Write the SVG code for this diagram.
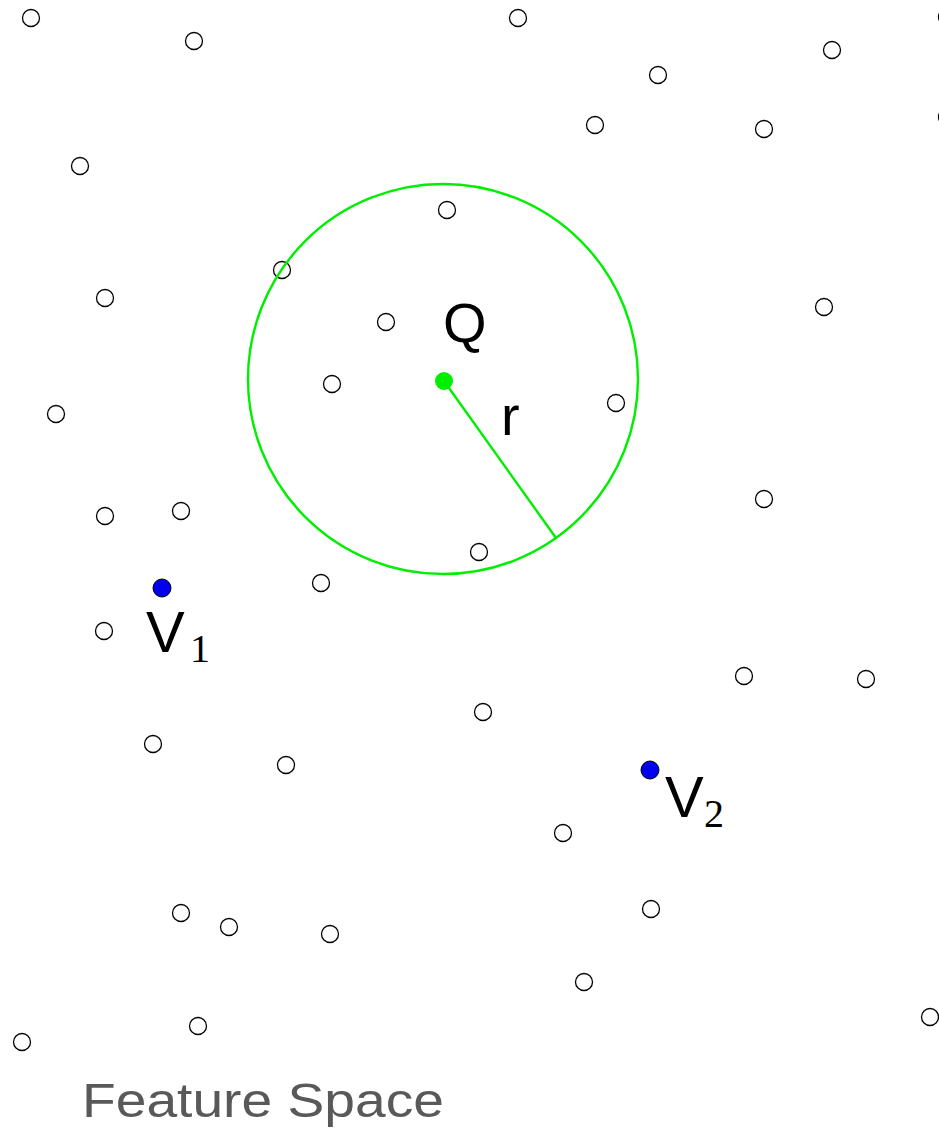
<svg xmlns="http://www.w3.org/2000/svg" width="939" height="1130" viewBox="0 0 939 1130">
<style>
.pt{fill:#fff;stroke:#000;stroke-width:1.3}
.lbl{font-family:"Liberation Sans","DejaVu Sans",sans-serif;fill:#000}
.sub{font-family:"Liberation Serif","DejaVu Serif",serif;fill:#000}
</style>
<rect width="939" height="1130" fill="#fff"/>
<g id="points">
<circle class="pt" cx="31" cy="18" r="8.5"/>
<circle class="pt" cx="194" cy="41" r="8.5"/>
<circle class="pt" cx="518" cy="18" r="8.5"/>
<circle class="pt" cx="658" cy="75" r="8.5"/>
<circle class="pt" cx="832" cy="50" r="8.5"/>
<circle class="pt" cx="947" cy="17" r="8.5"/>
<circle class="pt" cx="947" cy="117" r="8.5"/>
<circle class="pt" cx="595" cy="125" r="8.5"/>
<circle class="pt" cx="764" cy="129" r="8.5"/>
<circle class="pt" cx="80" cy="166" r="8.5"/>
<circle class="pt" cx="447" cy="210" r="8.5"/>
<circle class="pt" cx="282" cy="270" r="8.5"/>
<circle class="pt" cx="105" cy="298" r="8.5"/>
<circle class="pt" cx="824" cy="307" r="8.5"/>
<circle class="pt" cx="386" cy="322" r="8.5"/>
<circle class="pt" cx="332" cy="384" r="8.5"/>
<circle class="pt" cx="56" cy="414" r="8.5"/>
<circle class="pt" cx="616" cy="403" r="8.5"/>
<circle class="pt" cx="764" cy="499" r="8.5"/>
<circle class="pt" cx="105" cy="516" r="8.5"/>
<circle class="pt" cx="181" cy="511" r="8.5"/>
<circle class="pt" cx="479" cy="552" r="8.5"/>
<circle class="pt" cx="321" cy="583" r="8.5"/>
<circle class="pt" cx="104" cy="631" r="8.5"/>
<circle class="pt" cx="744" cy="676" r="8.5"/>
<circle class="pt" cx="866" cy="679" r="8.5"/>
<circle class="pt" cx="483" cy="712" r="8.5"/>
<circle class="pt" cx="153" cy="744" r="8.5"/>
<circle class="pt" cx="286" cy="765" r="8.5"/>
<circle class="pt" cx="563" cy="833" r="8.5"/>
<circle class="pt" cx="651" cy="909" r="8.5"/>
<circle class="pt" cx="181" cy="913" r="8.5"/>
<circle class="pt" cx="229" cy="927" r="8.5"/>
<circle class="pt" cx="330" cy="934" r="8.5"/>
<circle class="pt" cx="584" cy="982" r="8.5"/>
<circle class="pt" cx="198" cy="1026" r="8.5"/>
<circle class="pt" cx="22" cy="1042" r="8.5"/>
<circle class="pt" cx="930" cy="1017" r="8.5"/>
</g>
<g id="range">
<circle cx="443" cy="379" r="195" fill="none" stroke="#00ee00" stroke-width="2.4"/>
</g>
<g id="connectors">
<line x1="444" y1="381" x2="556" y2="538" stroke="#00ee00" stroke-width="2.4"/>
</g>
<g id="Q">
<circle cx="444" cy="381" r="9" fill="#00ee00"/>
<text class="lbl" x="443" y="342" font-size="56">Q</text>
<text class="lbl" x="501" y="435" font-size="56">r</text>
</g>
<g id="V1">
<circle cx="162" cy="588" r="9" fill="#0000ee" stroke="#000" stroke-width="1"/>
<text class="lbl" x="146" y="652" font-size="58">V</text>
<text class="sub" x="190" y="662" font-size="40">1</text>
</g>
<g id="V2">
<circle cx="650" cy="770" r="9" fill="#0000ee" stroke="#000" stroke-width="1"/>
<text class="lbl" x="665" y="817" font-size="58">V</text>
<text class="sub" x="704" y="827" font-size="40">2</text>
</g>
<g id="title">
<text x="82" y="1117" font-family="Liberation Sans, DejaVu Sans, sans-serif" font-size="48" fill="#595959" textLength="362" lengthAdjust="spacingAndGlyphs">Feature Space</text>
</g>
</svg>
